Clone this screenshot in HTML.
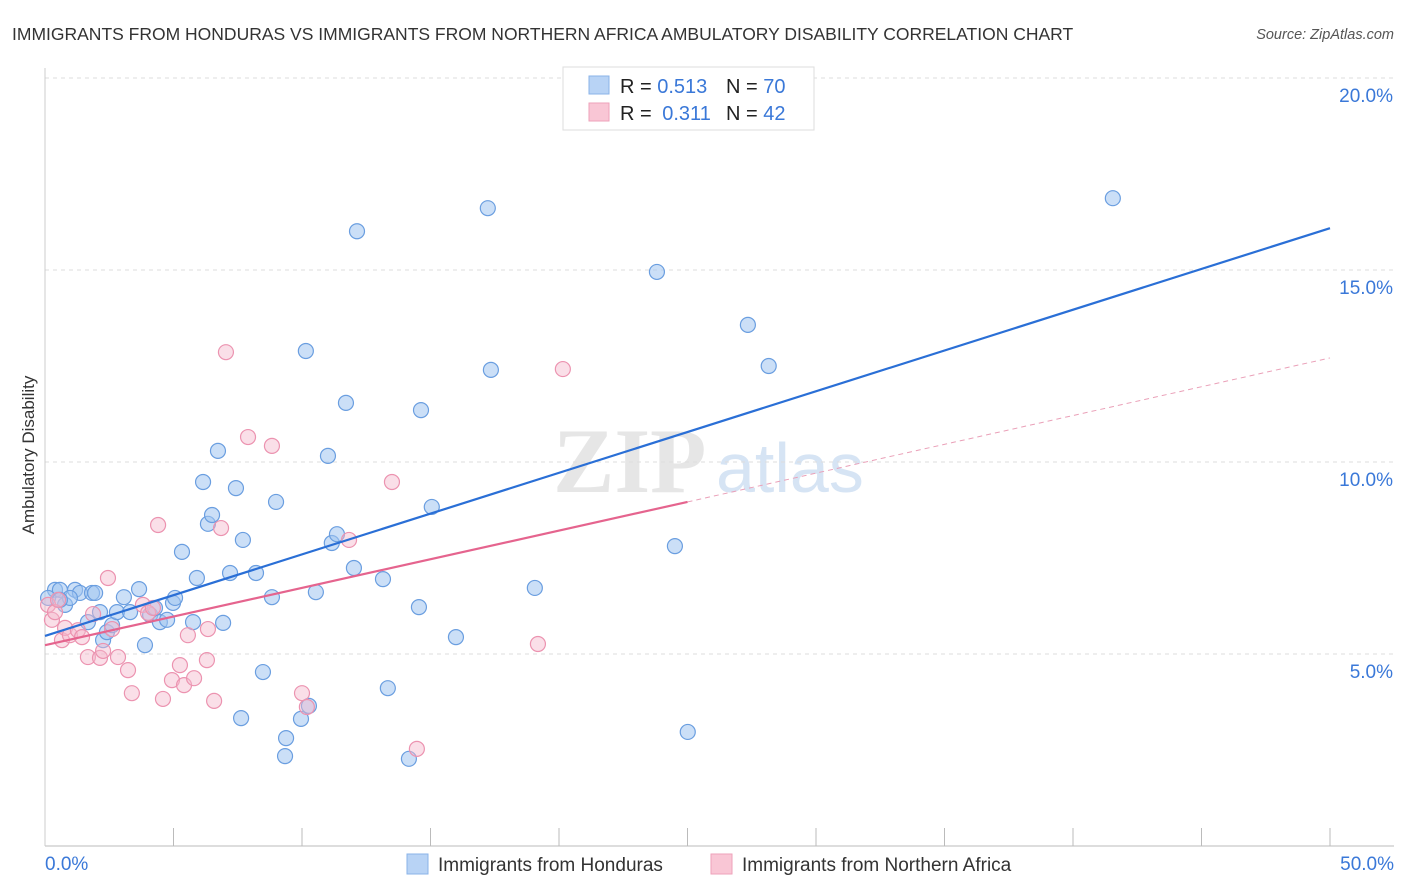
<!DOCTYPE html>
<html><head><meta charset="utf-8"><style>
body{margin:0;background:#fff;font-family:"Liberation Sans",sans-serif}
svg{display:block}
</style></head><body>
<svg id="c" width="1406" height="892" xmlns="http://www.w3.org/2000/svg">
<text x="12" y="40" font-size="17.5" fill="#333">IMMIGRANTS FROM HONDURAS VS IMMIGRANTS FROM NORTHERN AFRICA AMBULATORY DISABILITY CORRELATION CHART</text>
<text x="1394" y="39" font-size="14.5" fill="#555" font-style="italic" text-anchor="end">Source: ZipAtlas.com</text>
<text transform="translate(34,455) rotate(-90)" font-size="17" fill="#333" text-anchor="middle">Ambulatory Disability</text>
<g><text x="553" y="492" font-size="92" fill="#e6e6e6" font-family="Liberation Serif,serif" font-weight="bold">ZIP</text><text x="716" y="492" font-size="70" fill="#d6e4f4">atlas</text></g>
<g id="grid"></g><g id="axes"></g><g id="pts"></g><g id="lines"></g>
<g>
<rect x="563" y="67" width="251" height="63" fill="#fff" stroke="#ddd"/>
<rect x="589" y="76" width="20" height="18" fill="#b8d3f5" stroke="#8ab3e8"/>
<rect x="589" y="103" width="20" height="18" fill="#f9c6d5" stroke="#eea2ba"/>
<text x="620" y="93" font-size="20" fill="#222">R = <tspan fill="#3a78d8">0.513</tspan><tspan x="726">N = </tspan><tspan fill="#3a78d8">70</tspan></text>
<text x="620" y="120" font-size="20" fill="#222">R = <tspan fill="#3a78d8" dx="5">0.311</tspan><tspan x="726">N = </tspan><tspan fill="#3a78d8">42</tspan></text>
</g>
<g>
<rect x="407" y="854" width="21" height="20" fill="#b8d3f5" stroke="#8ab3e8"/>
<text x="438" y="871" font-size="19" fill="#333">Immigrants from Honduras</text>
<rect x="711" y="854" width="21" height="20" fill="#f9c6d5" stroke="#eea2ba"/>
<text x="742" y="871" font-size="19" fill="#333">Immigrants from Northern Africa</text>
</g>
</svg>
<script>
const yTicks=[5,10,15,20];
const xTickLabels=["0.0%","50.0%"];
const blueX=[0.39,0.58,0.12,0.78,1.17,1.36,1.83,1.95,0.97,0.58,2.26,2.41,2.61,2.80,3.07,3.31,3.66,3.89,4.09,4.28,4.47,4.75,4.98,5.06,5.33,5.76,5.91,6.15,6.34,6.50,6.73,6.93,7.20,7.43,7.63,7.70,8.21,8.48,8.83,8.99,9.38,9.34,9.96,10.15,10.27,10.54,11.01,11.16,11.36,11.71,12.02,12.14,13.15,13.34,14.16,14.55,14.63,15.05,15.99,17.23,17.35,19.06,23.81,24.51,25.01,27.35,28.16,41.55,1.67,2.14];
const blueY=[6.67,6.67,6.46,6.28,6.67,6.59,6.59,6.59,6.46,6.41,5.36,5.57,5.75,6.09,6.48,6.09,6.69,5.23,6.02,6.20,5.83,5.89,6.33,6.46,7.66,5.83,6.98,9.48,8.39,8.62,10.29,5.81,7.11,9.32,3.33,7.97,7.11,4.53,6.48,8.96,2.81,2.34,3.31,12.89,3.65,6.61,10.16,7.89,8.12,11.54,7.24,16.01,6.95,4.11,2.27,6.22,11.35,8.83,5.44,16.61,12.40,6.72,14.95,7.81,2.97,13.57,12.50,16.87,5.83,6.09];
const pinkX=[0.12,0.27,0.39,0.51,0.66,0.78,0.97,1.28,1.44,1.67,1.87,2.14,2.26,2.45,2.61,2.84,3.23,3.38,3.81,4.01,4.20,4.40,4.59,4.94,5.25,5.41,5.56,5.80,6.30,6.34,6.58,6.85,7.04,7.90,8.83,10.00,10.19,11.83,13.50,14.47,19.18,20.15];
const pinkY=[6.28,5.89,6.09,6.41,5.36,5.68,5.49,5.62,5.44,4.92,6.04,4.90,5.08,6.98,5.65,4.92,4.58,3.98,6.28,6.07,6.20,8.36,3.83,4.32,4.71,4.19,5.49,4.37,4.84,5.65,3.78,8.28,12.86,10.65,10.42,3.98,3.62,7.97,9.48,2.53,5.26,12.42];
const blueTrend=[5.47,16.09];
const pinkTrend=[5.23,8.96,12.71];
const NS="http://www.w3.org/2000/svg";
const X=v=>45+v/50*1285, Y=v=>846-v/5*192;
function mk(tag,attrs,parent){const e=document.createElementNS(NS,tag);for(const k in attrs)e.setAttribute(k,attrs[k]);document.getElementById(parent).appendChild(e);return e;}
yTicks.forEach(t=>{
 const l=mk('line',{x1:45,x2:1394,y1:Y(t),y2:Y(t),stroke:'#ddd','stroke-dasharray':'4 4'},'grid');
 
 
 const tx=mk('text',{x:1393,y:Y(t)+24,'font-size':19,fill:'#3a78d8','text-anchor':'end'},'grid');
 tx.textContent=t.toFixed(1)+'%';
 
 
});
const ax=mk('line',{x1:45,x2:1394,y1:846,y2:846,stroke:'#bbb'},'axes');


const ay=mk('line',{x1:45,x2:45,y1:68,y2:846,stroke:'#ccc'},'axes');


for(let i=1;i<=10;i++){const t=mk('line',{x1:X(i*5),x2:X(i*5),y1:828,y2:846,stroke:'#bbb'},'axes');
 
 }
[[0,'start',45],[50,'end',1394]].forEach((d,i)=>{const t=mk('text',{x:d[2],y:870,'font-size':19,fill:'#3a78d8','text-anchor':d[1]},'axes');t.textContent=xTickLabels[i];
 
 });
blueX.forEach((x,i)=>{const c=mk('circle',{cx:X(x),cy:Y(blueY[i]),r:7.5,fill:'rgba(160,196,240,0.55)',stroke:'#6a9ee0','stroke-width':1.2},'pts');
 
 });
pinkX.forEach((x,i)=>{const c=mk('circle',{cx:X(x),cy:Y(pinkY[i]),r:7.5,fill:'rgba(245,184,203,0.45)',stroke:'#ec93b0','stroke-width':1.2},'pts');
 
 });
const bl=mk('line',{x1:X(0),y1:Y(blueTrend[0]),x2:X(50),y2:Y(blueTrend[1]),stroke:'#2a6fd6','stroke-width':2.2},'lines');


const pl=mk('line',{x1:X(0),y1:Y(pinkTrend[0]),x2:X(25),y2:Y(pinkTrend[1]),stroke:'#e5648e','stroke-width':2.2},'lines');


const pd=mk('line',{x1:X(25),y1:Y(pinkTrend[1]),x2:X(50),y2:Y(pinkTrend[2]),stroke:'#eaa0b8','stroke-width':1,'stroke-dasharray':'5 4'},'lines');


</script>
</body></html>
